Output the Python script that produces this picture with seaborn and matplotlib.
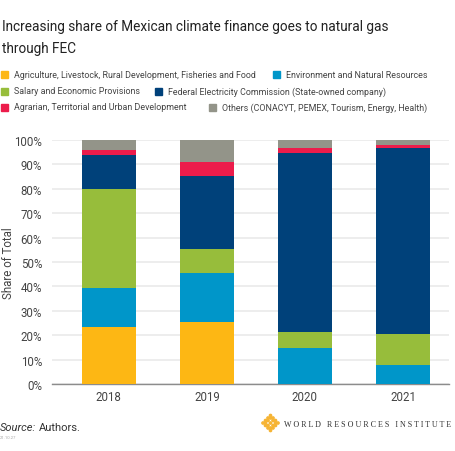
import numpy as np
import pandas as pd
import seaborn as sns
import matplotlib.pyplot as plt
from matplotlib.patches import Rectangle, Circle

# data (share of total, %)
years = ['2018', '2019', '2020', '2021']
agriculture = [23.4, 25.4, 0.0, 0.0]
environment = [15.8, 20.2, 14.6, 7.7]
salary = [40.7, 9.7, 6.8, 12.7]
fec = [13.8, 30.1, 73.3, 76.3]
agrarian = [2.1, 5.4, 2.0, 1.1]
others = [4.2, 9.2, 3.3, 2.2]

sectors = ['Agriculture, Livestock, Rural Development, Fisheries and Food',
           'Environment and Natural Resources',
           'Salary and Economic Provisions',
           'Federal Electricity Commission (State-owned company)',
           'Agrarian, Territorial and Urban Development',
           'Others (CONACYT, PEMEX, Tourism, Energy, Health)']
colors = ['#FDB714', '#0096C9', '#97BD3B', '#00417A', '#EC1C4B', '#939489']
series = [agriculture, environment, salary, fec, agrarian, others]

sns.set_theme(style='white')
plt.rcParams['font.family'] = ['Roboto', 'DejaVu Sans']

fig = plt.figure(figsize=(4.55, 4.52), dpi=100)
ax = fig.add_axes([0.114, 0.148, 0.873, 0.540])

# stacked bars, one seaborn call per sector
bottom = np.zeros(len(years))
for vals, col in zip(series, colors):
    sns.barplot(x=years, y=vals, bottom=bottom, color=col, width=0.55,
                saturation=1, linewidth=0, ax=ax, zorder=3)
    bottom = bottom + np.array(vals)

ax.set_ylim(0, 100)
ax.set_xlim(-0.58, 3.47)
ax.set_yticks(np.arange(0, 101, 10))
ax.set_yticklabels([f'{v}%' for v in range(0, 101, 10)])
ax.grid(axis='y', color='#e8e8e8', linewidth=1.1, zorder=0)
ax.set_axisbelow(True)
for s in ['top', 'right', 'left']:
    ax.spines[s].set_visible(False)
ax.spines['bottom'].set_color('#8c8c8c')
ax.spines['bottom'].set_linewidth(1)
ax.tick_params(axis='both', length=0, labelsize=8.3, colors='#444444', pad=4)
ax.tick_params(axis='y', pad=7)
ax.set_ylabel('Share of Total', fontsize=8.3, color='#444444')
ax.yaxis.set_label_coords(-0.092, 0.5)
ax.set_xlabel('')

W, H = 455, 452


def px(x, y):
    return x / W, 1 - y / H


fig.canvas.draw()
renderer = fig.canvas.get_renderer()


def fit(t, target):
    # shrink/grow a text so its width matches the reference width in pixels
    w = t.get_window_extent(renderer).width
    t.set_fontsize(t.get_fontsize() * target / w)
    return t.get_fontsize()


# title, two lines
t1 = fig.text(*px(2, 31), 'Increasing share of Mexican climate finance goes to natural gas',
              fontsize=12, color='#222222', va='baseline', ha='left')
size = fit(t1, 386)
fig.text(*px(2, 53), 'through FEC', fontsize=size, color='#222222', va='baseline', ha='left')

# legend laid out in flowing rows like the reference
rows_y = [75, 92, 108]
gaps = [17, 15, 22]
probe = fig.text(0, 0, sectors[0], fontsize=8)
lsize = fit(probe, 226) * 1.08
probe.remove()
for r, (ly, gap) in enumerate(zip(rows_y, gaps)):
    lx = 1
    for k in (2 * r, 2 * r + 1):
        fig.patches.append(Rectangle(px(lx, ly + 3.5), 7 / W, 7 / H, color=colors[k],
                                     transform=fig.transFigure, figure=fig))
        t = fig.text(*px(lx + 13, ly), sectors[k], fontsize=lsize, color='#444444',
                     va='center', ha='left')
        lx = lx + 13 + t.get_window_extent(renderer).width + gap

# footer
src = fig.text(*px(0, 428), 'Source:', fontsize=8, style='italic', color='#333333', va='center')
fig.canvas.draw()
sw = src.get_window_extent(renderer).width
fig.text(*px(sw + 3, 428), 'Authors.', fontsize=8, color='#333333', va='center')
fig.text(*px(0, 438), '21.10.27', fontsize=3, color='#aaaaaa', va='center')

# WRI logo mark: a diamond of small yellow dots
cx, cy = 270.5, 424
for i in range(-3, 4):
    for j in range(-3, 4):
        if abs(i) + abs(j) <= 3 and (i + j) % 2 == 0 or abs(i) + abs(j) == 3:
            x, y = px(cx + i * 2.5, cy + j * 2.5)
            fig.patches.append(Circle((x, y), 1.15 / W, color='#F6B434',
                                      transform=fig.transFigure, figure=fig))
wri = fig.text(*px(284, 425), 'W O R L D   R E S O U R C E S   I N S T I T U T E',
               fontsize=6, family=['Liberation Serif', 'DejaVu Serif'], color='#333333',
               va='center', ha='left')
fit(wri, 169)

fig.savefig('out.png', dpi=100)
